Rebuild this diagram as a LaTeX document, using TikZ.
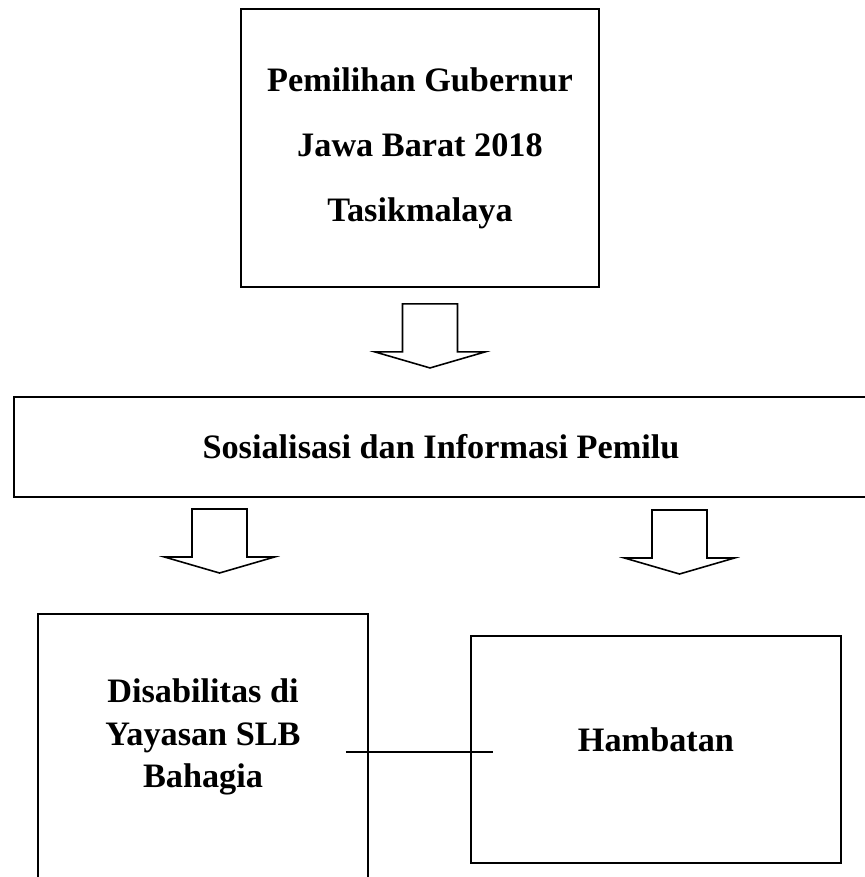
\documentclass[tikz,border=0pt]{standalone}
\usepackage{fontspec}
\setmainfont{Liberation Serif}
\usepackage{tikz}
\usetikzlibrary{positioning, calc}

\tikzset{
	blockarrow/.pic={
		\draw[line width=0.9pt, line join=miter] (-27.5,0) -- (27.5,0) -- (27.5,48) -- (55,48) -- (0,64) -- (-55,48) -- (-27.5,48) -- cycle;
	}
}

\begin{document}
\begin{tikzpicture}[
			x=0.02cm, y=-0.02cm,
			box/.style={rectangle, draw=black, line width=1.1pt, inner sep=0pt, align=center, font=\bfseries\fontsize{19.5}{37}\selectfont},
			txt/.style={align=center, inner sep=0pt, font=\bfseries\fontsize{19.5}{24}\selectfont},
			link/.style={line width=0.85pt}
			]
			\useasboundingbox (0,0) rectangle (865,877);
			
			\node[box, minimum width=7.16cm, minimum height=5.56cm] (pilgub) at (420,148) {Pemilihan Gubernur\\Jawa Barat 2018\\Tasikmalaya};
			\node[box, minimum width=17.08cm, minimum height=2cm] (sosialisasi) at (441,447) {Sosialisasi dan Informasi Pemilu};
			
			\node[box, minimum width=6.6cm, minimum height=5.52cm] (disabilitas) at (203,752) {};
			\node[box, minimum width=7.4cm, minimum height=4.54cm] (hambatan) at (656,749.5) {};
			\node[txt] (disabtext) at (203,737) {Disabilitas di\\Yayasan SLB\\Bahagia};
			\node[txt] (hambtext) at (656,740) {Hambatan};
			
			\pic at ($(pilgub.south)+(10,16)$) {blockarrow};
			\pic at (219.5,509) {blockarrow};
			\pic at (679.5,510) {blockarrow};
			
			\draw[link] ($(disabilitas.east)+(-23,0)$) -- ($(hambatan.west |- disabilitas.east)+(23,0)$);
			
		\end{tikzpicture}
\end{document}
